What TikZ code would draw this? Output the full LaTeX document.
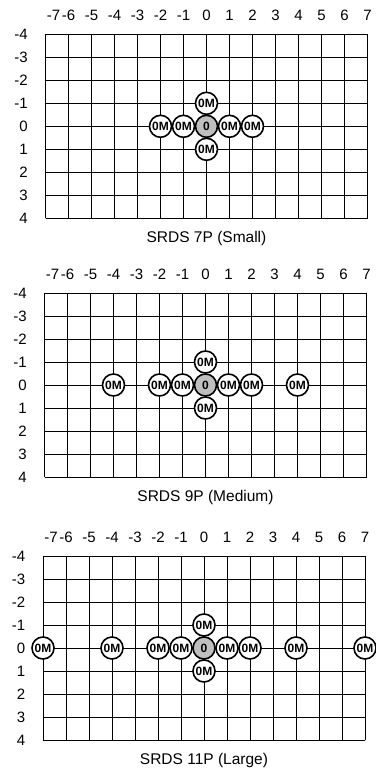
\documentclass[tikz,border=0pt]{standalone}
\usepackage{fontspec}
\setmainfont{Liberation Sans}

\begin{document}
\begin{tikzpicture}[
		x=23pt, y=23pt,
		gridline/.style={line width=0.8pt, black},
		axislabel/.style={font=\fontsize{15}{15}\selectfont, inner sep=0pt},
		caption/.style={font=\fontsize{15.5}{16}\selectfont, inner sep=0pt},
		om/.style={circle, draw=black, line width=1.6pt, fill=white, minimum size=22pt, inner sep=0pt, font=\fontsize{12}{12}\selectfont\bfseries},
		core/.style={om, fill=black!25}
		]
		\useasboundingbox (0pt,0pt) rectangle (375pt,-771pt);
		
		% Three panels with the same grid, axes and core cross
		\foreach \p/\xo/\yo/\cap in {s/206.5/126.3/{SRDS 7P (Small)}, m/205.5/385/{SRDS 9P (Medium)}, l/204/648/{SRDS 11P (Large)}} {
			\begin{scope}[shift={(\xo pt,-\yo pt)}]
				\draw[gridline, step=1] (-7,-4) grid (7,4);
				\foreach \i in {-7,...,7}
					\node[axislabel] (\p-x\i) at ({\i+(\i==-7)*0.35},4.83) {\i};
				\foreach \j in {-4,...,4}
					\node[axislabel, anchor=east] (\p-y\j) at (-7.76,{-1*(\j)}) {\j};
				
				\node[om] (\p-w2) at (-2,0) {0M};
				\node[om] (\p-w1) at (-1,0) {0M};
				\node[om] (\p-e1) at (1,0) {0M};
				\node[om] (\p-e2) at (2,0) {0M};
				\node[om] (\p-n) at (0,1) {0M};
				\node[om] (\p-s) at (0,-1) {0M};
				\node[core] (\p-c) at (0,0) {0};
				
				\node[caption] (\p-cap) at (0,-4.87) {\cap};
			\end{scope}
		}
		
		% Medium: one outer pair
		\begin{scope}[shift={(205.5pt,-385pt)}]
			\node[om] (m-w4) at (-4,0) {0M};
			\node[om] (m-e4) at (4,0) {0M};
		\end{scope}
		
		% Large: two outer pairs
		\begin{scope}[shift={(204pt,-648pt)}]
			\node[om] (l-w4) at (-4,0) {0M};
			\node[om] (l-e4) at (4,0) {0M};
			\node[om] (l-w7) at (-7,0) {0M};
			\node[om] (l-e7) at (7,0) {0M};
		\end{scope}
		
	\end{tikzpicture}
\end{document}
